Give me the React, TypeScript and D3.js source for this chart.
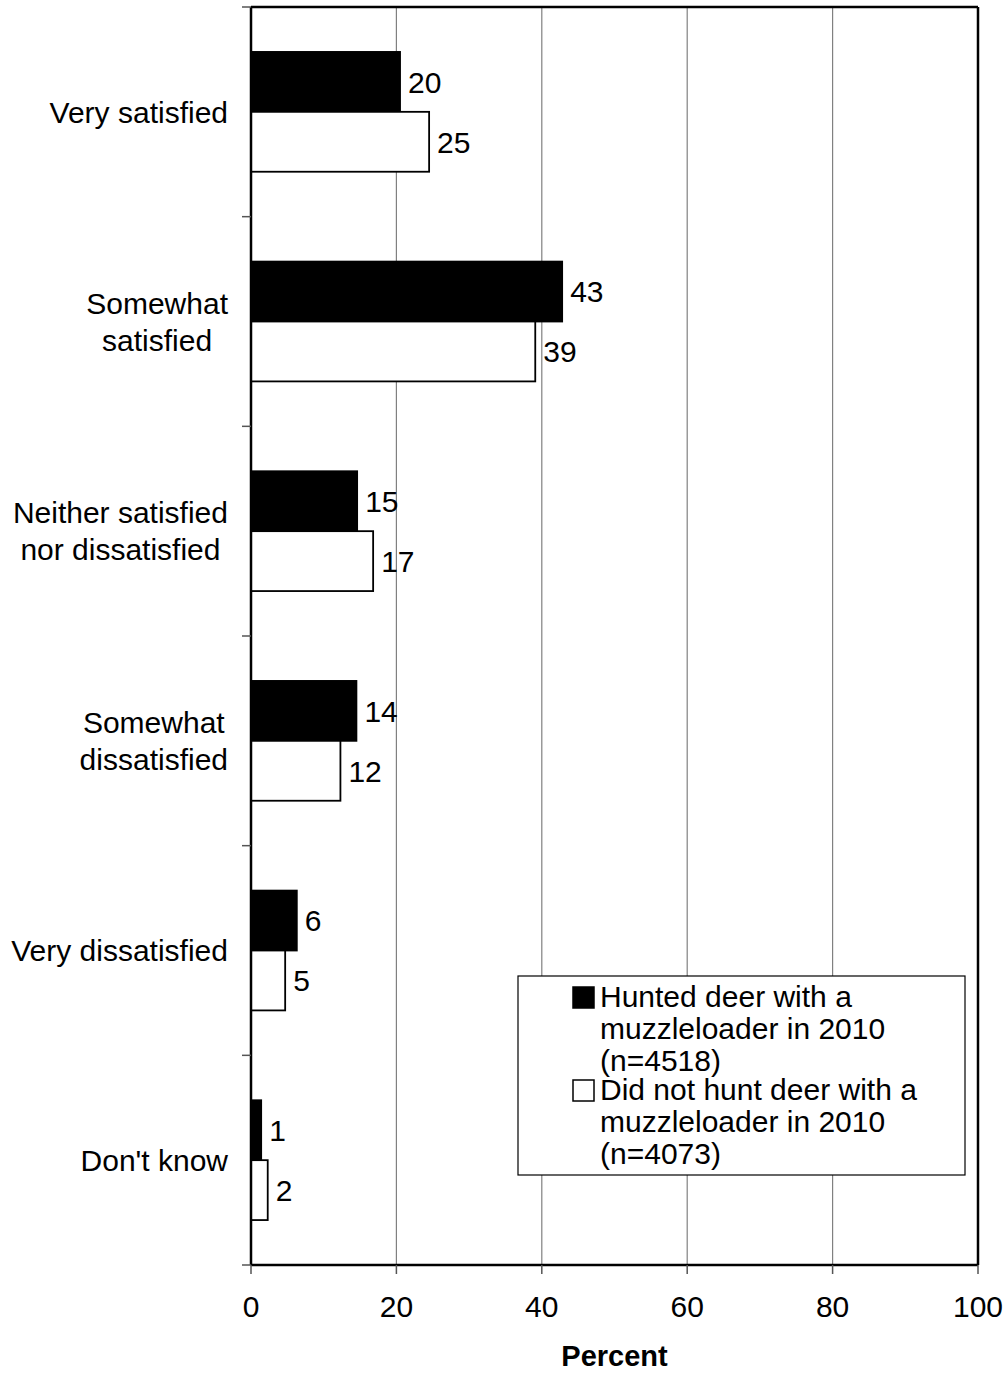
import React from "react";
import * as d3 from "d3";

const categories = [
  ["Very satisfied"],
  ["Somewhat", "satisfied"],
  ["Neither satisfied", "nor dissatisfied"],
  ["Somewhat", "dissatisfied"],
  ["Very dissatisfied"],
  ["Don't know"],
];
const seriesNames = ["hunted", "notHunted"];
const huntedValues = [20.5, 42.8, 14.6, 14.5, 6.3, 1.4];
const notHuntedValues = [24.5, 39.1, 16.8, 12.3, 4.7, 2.3];
const huntedLabels = ["20", "43", "15", "14", "6", "1"];
const notHuntedLabels = ["25", "39", "17", "12", "5", "2"];
const xTicks = [0, 20, 40, 60, 80, 100];
const legendHunted = ["Hunted deer with a", "muzzleloader in 2010", "(n=4518)"];
const legendNotHunted = ["Did not hunt deer with a", "muzzleloader in 2010", "(n=4073)"];

const W = 1008;
const H = 1374;
const FONT = "'Liberation Sans', Arial, sans-serif";
const FS = 30;

// measure text so multi-line category labels can be centred as a block
const ctx = document.createElement("canvas").getContext("2d");
function textWidth(s: string, size: number) {
  if (!ctx) return s.length * size * 0.5;
  ctx.font = `${size}px ${FONT}`;
  return ctx.measureText(s).width;
}

export default function App() {
  const left = 251;
  const right = 978;
  const top = 7;
  const bottom = 1265;

  const x = d3.scaleLinear().domain([0, 100]).range([left, right]);
  const keys = categories.map((c) => c.join(" "));
  const y = d3.scaleBand<string>().domain(keys).range([top, bottom]).padding(0);
  const inner = d3
    .scaleBand<string>()
    .domain(seriesNames)
    .range([0, y.step()])
    .paddingInner(0)
    .paddingOuter(0.75);

  const series = [
    { key: "hunted", values: huntedValues, labels: huntedLabels, fill: "#000" },
    { key: "notHunted", values: notHuntedValues, labels: notHuntedLabels, fill: "#fff" },
  ];

  const boundaries = d3.range(categories.length + 1).map((i) => top + i * y.step());

  return (
    <div style={{ position: "absolute", left: 0, top: 0 }}>
      <svg width={W} height={H} style={{ display: "block", background: "#fff" }} fontFamily={FONT}>
        {/* gridlines */}
        {xTicks.slice(1, -1).map((t) => (
          <line key={"g" + t} x1={x(t)} x2={x(t)} y1={top} y2={bottom} stroke="#808080" strokeWidth={1.2} />
        ))}

        {/* bars */}
        {series.map((s) =>
          s.values.map((v, i) => {
            const by = (y(keys[i]) as number) + (inner(s.key) as number);
            const bh = inner.bandwidth();
            return (
              <g key={s.key + i}>
                <rect
                  x={x(0)}
                  y={by}
                  width={x(v) - x(0)}
                  height={bh}
                  fill={s.fill}
                  stroke="#000"
                  strokeWidth={1.8}
                />
                <text x={x(v) + 8} y={by + bh / 2} dy="0.36em" fontSize={FS} fill="#000">
                  {s.labels[i]}
                </text>
              </g>
            );
          })
        )}

        {/* plot border */}
        <line x1={left} x2={right} y1={top} y2={top} stroke="#000" strokeWidth={2.5} />
        <line x1={right} x2={right} y1={top} y2={bottom} stroke="#000" strokeWidth={2.5} />
        <line x1={left} x2={left} y1={top} y2={bottom} stroke="#000" strokeWidth={2.5} />
        <line x1={left} x2={right} y1={bottom} y2={bottom} stroke="#000" strokeWidth={2.5} />

        {/* category ticks */}
        {boundaries.map((b, i) => (
          <line key={"yt" + i} x1={242} x2={left} y1={b} y2={b} stroke="#555" strokeWidth={1.5} />
        ))}

        {/* category labels */}
        {categories.map((lines, i) => {
          const cy = (y(keys[i]) as number) + y.step() / 2;
          const lh = 37;
          const maxW = d3.max(lines, (l) => textWidth(l, FS)) || 0;
          const cx = 228 - maxW / 2;
          return (
            <text key={"c" + i} textAnchor="middle" fontSize={FS} fill="#000">
              {lines.map((ln, j) => (
                <tspan key={j} x={cx} y={cy + (j - (lines.length - 1) / 2) * lh} dy="0.36em">
                  {ln}
                </tspan>
              ))}
            </text>
          );
        })}

        {/* x ticks */}
        {xTicks.map((t) => (
          <g key={"xt" + t}>
            <line x1={x(t)} x2={x(t)} y1={bottom} y2={bottom + 9} stroke="#555" strokeWidth={1.5} />
            <text x={x(t)} y={1317} textAnchor="middle" fontSize={FS} fill="#000">
              {t}
            </text>
          </g>
        ))}
        <text x={(left + right) / 2} y={1366} textAnchor="middle" fontSize={29} fontWeight="bold" fill="#000">
          Percent
        </text>

        {/* legend */}
        <rect x={518} y={976} width={447} height={199} fill="#fff" stroke="#000" strokeWidth={1.2} />
        <rect x={573} y={987} width={21} height={21} fill="#000" stroke="#000" strokeWidth={1.5} />
        <text fontSize={FS} fill="#000">
          {legendHunted.map((ln, j) => (
            <tspan key={j} x={600} y={1007 + j * 32}>
              {ln}
            </tspan>
          ))}
        </text>
        <rect x={573} y={1080} width={21} height={21} fill="#fff" stroke="#000" strokeWidth={1.5} />
        <text fontSize={FS} fill="#000">
          {legendNotHunted.map((ln, j) => (
            <tspan key={j} x={600} y={1100 + j * 32}>
              {ln}
            </tspan>
          ))}
        </text>
      </svg>
    </div>
  );
}
